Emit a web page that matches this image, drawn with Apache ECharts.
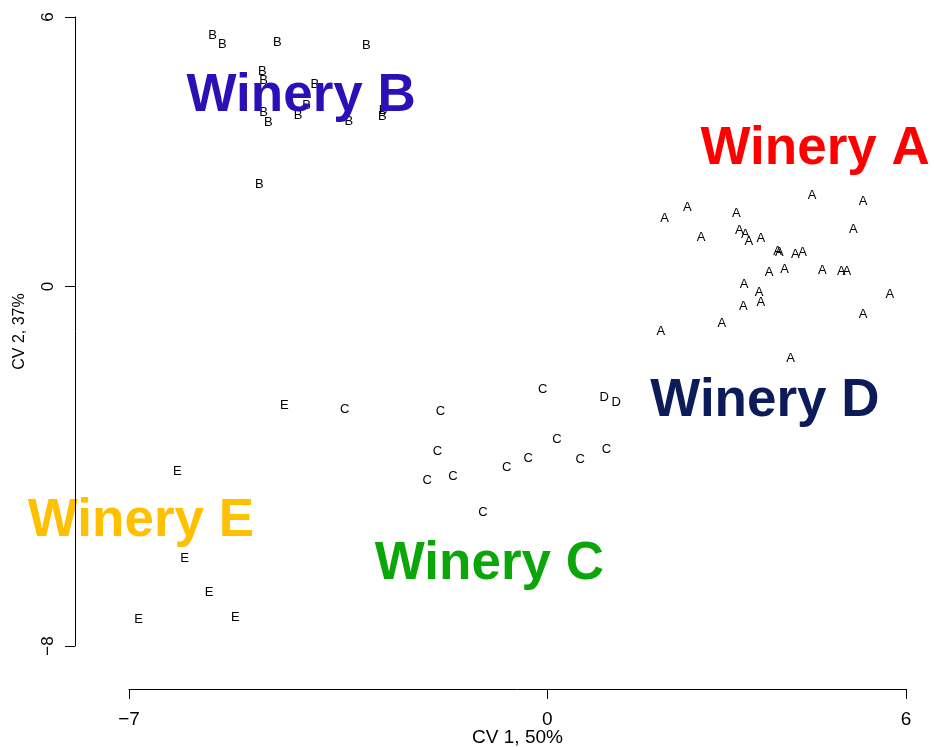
<!DOCTYPE html>
<html>
<head>
<meta charset="utf-8">
<script src="https://cdn.jsdelivr.net/npm/echarts@6/dist/echarts.min.js"></script>
<style>html,body{margin:0;padding:0;background:#fff}#c{width:934px;height:747px}</style>
</head>
<body>
<div id="c"></div>
<script>
// Winery A
const aX = [4.43,5.28,2.34,1.96,3.16,2.57,3.21,3.31,3.37,3.57,5.12,3.85,3.88,4.15,4.27,3.71,3.97,4.60,4.92,5.01,3.29,3.54,5.73,3.28,3.57,5.28,2.92,1.90,4.07];
const aY = [2.02,1.90,1.76,1.51,1.62,1.10,1.26,1.17,1.01,1.07,1.27,0.79,0.75,0.72,0.75,0.32,0.39,0.35,0.34,0.34,0.05,-0.12,-0.18,-0.44,-0.36,-0.63,-0.83,-1.00,-1.59];
// Winery B
const bX = [-5.60,-5.44,-4.52,-3.03,-4.77,-4.75,-3.89,-4.03,-4.75,-4.67,-4.17,-3.32,-2.75,-2.76,-4.82];
const bY = [5.60,5.39,5.44,5.37,4.78,4.58,4.49,4.04,3.87,3.66,3.81,3.67,3.93,3.78,2.28];
// Winery C
const cX = [-3.39,-0.08,-1.79,0.16,-1.84,0.99,-0.32,0.55,-0.68,-2.01,-1.58,-1.08];
const cY = [-2.73,-2.30,-2.78,-3.41,-3.67,-3.62,-3.82,-3.84,-4.02,-4.31,-4.23,-5.02];
// Winery D
const dX = [0.95,1.15];
const dY = [-2.46,-2.58];
// Winery E
const eX = [-4.40,-6.19,-6.07,-5.66,-6.84,-5.22];
const eY = [-2.65,-4.11,-6.06,-6.80,-7.41,-7.37];

const groupLetters = ['A','B','C','D','E'];
const labelNames = ['Winery A','Winery B','Winery C','Winery D','Winery E'];
const labelX = [4.48,-4.12,-0.97,3.64,-6.80];
const labelY = [3.13,4.31,-6.11,-2.48,-5.15];
const labelColors = ['#ff0000','#2b10b8','#0aa60a','#0d1c58','#ffc000'];

const xTicks = [-7,0,6];
const yTicks = [-8,0,6];
const xName = 'CV 1, 50%';
const yName = 'CV 2, 37%';

const groupsX = [aX,bX,cX,dX,eX];
const groupsY = [aY,bY,cY,dY,eY];

const font = '"Liberation Sans", Arial, Helvetica, sans-serif';
const minusFmt = v => String(v).replace('-', '\u2212');

const series = [];
groupsX.forEach((xs, g) => {
  series.push({
    type: 'scatter',
    symbol: 'circle',
    symbolSize: 1,
    itemStyle: { color: 'rgba(0,0,0,0)', opacity: 1 },
    silent: true,
    z: 2,
    data: xs.map((x, i) => [x, groupsY[g][i]]),
    label: {
      show: true, position: 'inside',
      formatter: groupLetters[g],
      color: '#000', fontSize: 13, fontFamily: font,
      align: 'center', verticalAlign: 'middle', offset: [0, 1]
    },
    labelLayout: { hideOverlap: false }
  });
});
series.push({
  type: 'scatter',
  symbol: 'circle',
  symbolSize: 1,
  itemStyle: { color: 'rgba(0,0,0,0)', opacity: 1 },
  silent: true,
  z: 3,
  data: labelNames.map((n, i) => ({
    value: [labelX[i], labelY[i]],
    name: n,
    label: { color: labelColors[i] }
  })),
  label: {
    show: true, position: 'inside',
    formatter: p => p.name,
    fontSize: 53, fontWeight: 'bold', fontFamily: font,
    align: 'center', verticalAlign: 'middle', offset: [0, 3]
  }
});

const chart = echarts.init(document.getElementById('c'), null, { renderer: 'canvas' });
chart.setOption({
  animation: false,
  backgroundColor: '#fff',
  grid: { left: 129, right: 28, top: 17, bottom: 101, containLabel: false, outerBoundsMode: 'none' },
  xAxis: {
    type: 'value', min: -7, max: 6,
    offset: 43,
    splitLine: { show: false },
    axisLine: { show: true, onZero: false, lineStyle: { color: '#000', width: 1 } },
    axisTick: { show: true, length: 10, customValues: xTicks, lineStyle: { color: '#000' } },
    axisLabel: { customValues: xTicks, formatter: minusFmt, margin: 21, fontSize: 19, color: '#000', fontFamily: font },
    name: xName, nameLocation: 'middle', nameGap: 39, nameMoveOverlap: false,
    nameTextStyle: { fontSize: 19, color: '#000', fontFamily: font }
  },
  yAxis: {
    type: 'value', min: -8, max: 6,
    offset: 54,
    zlevel: 1,
    splitLine: { show: false },
    axisLine: { show: true, onZero: false, lineStyle: { color: '#000', width: 1 } },
    axisTick: { show: true, length: 10, customValues: yTicks, lineStyle: { color: '#000' } },
    axisLabel: { customValues: yTicks, formatter: minusFmt, margin: 18, rotate: 90, fontSize: 17, color: '#000', fontFamily: font },
    name: yName, nameLocation: 'middle', nameGap: 47, nameMoveOverlap: false,
    nameTextStyle: { fontSize: 16, color: '#000', fontFamily: font }
  },
  series: series
});
</script>
</body>
</html>
